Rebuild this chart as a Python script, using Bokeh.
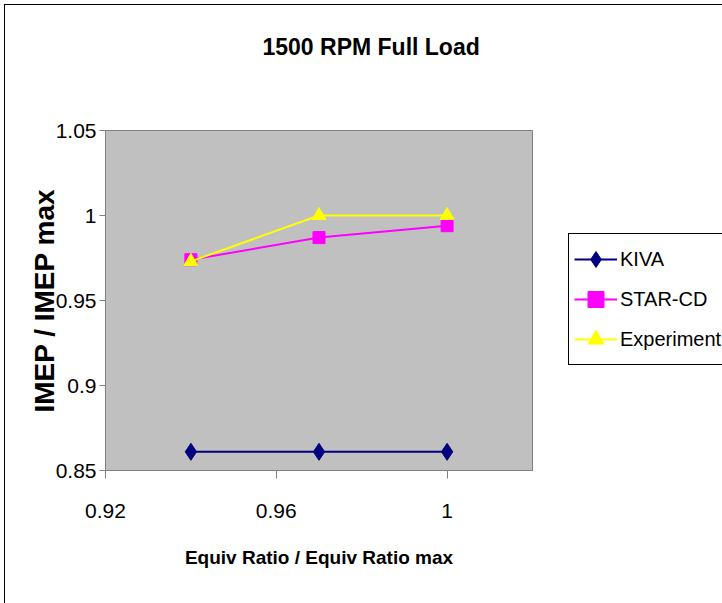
from bokeh.plotting import figure
from bokeh.layouts import row
from bokeh.models import FixedTicker, Label, Legend, LegendItem, Range1d
from bokeh.embed import file_html
from bokeh.resources import INLINE

# Normalised equivalence ratio and IMEP for each source
equiv_ratio = [0.94, 0.97, 1.0]
kiva = [0.861, 0.861, 0.861]
star_cd = [0.974, 0.987, 0.994]
experiment = [0.973, 1.0, 1.0]

series_names = ["KIVA", "STAR-CD", "Experiment"]
chart_title = "1500 RPM Full Load"

x_ticks = [0.92, 0.96, 1.0]
x_tick_labels = ["0.92", "0.96", "1"]
y_ticks = [0.85, 0.9, 0.95, 1.0, 1.05]
y_tick_labels = ["0.85", "0.9", "0.95", "1", "1.05"]

FONT = "Liberation Sans"
STYLES = [
    dict(color="#000080", marker="diamond", size=17),
    dict(color="#FF00FF", marker="square", size=12),
    dict(color="#FFFF00", marker="triangle", size=14),
]
SERIES = [kiva, star_cd, experiment]

# ---- main chart -------------------------------------------------------
p = figure(
    width=528, height=598,
    x_range=Range1d(0.92, 1.02), y_range=Range1d(0.85, 1.05),
    output_backend="svg", toolbar_location=None,
    min_border_left=100, min_border_right=1,
    min_border_top=125, min_border_bottom=133,
)
p.background_fill_color = "#C0C0C0"
p.border_fill_color = "white"
p.outline_line_color = "#808080"
p.outline_line_width = 1
p.xgrid.visible = False
p.ygrid.visible = False

# chart title, placed in the band above the plot area
title = Label(
    x=157, y=84, x_units="screen", y_units="screen",
    text=chart_title, text_font=FONT, text_font_size="23px",
    text_font_style="bold", text_color="black",
    text_align="left", text_baseline="middle",
)
p.add_layout(title, "above")

for ax in (p.xaxis, p.yaxis):
    ax.axis_line_color = "#808080"
    ax.major_tick_line_color = "#808080"
    ax.minor_tick_line_color = None
    ax.major_tick_in = 0
    ax.major_label_text_font = FONT
    ax.major_label_text_font_size = "21px"
    ax.major_label_text_color = "black"
    ax.axis_label_text_font_style = "bold"
    ax.axis_label_text_color = "black"

p.xaxis.ticker = FixedTicker(ticks=x_ticks)
p.xaxis.major_label_overrides = dict(zip(x_ticks, x_tick_labels))
p.xaxis.major_tick_out = 8
p.xaxis.major_label_standoff = 25
p.xaxis.axis_label = "Equiv Ratio / Equiv Ratio max"
p.xaxis.axis_label_text_font = FONT
p.xaxis.axis_label_text_font_size = "19px"
p.xaxis.axis_label_standoff = 26

p.yaxis.ticker = FixedTicker(ticks=y_ticks)
p.yaxis.major_label_overrides = dict(zip(y_ticks, y_tick_labels))
p.yaxis.major_tick_out = 6
p.yaxis.major_label_standoff = 3
p.yaxis.axis_label = "IMEP / IMEP max"
p.yaxis.axis_label_text_font = FONT
p.yaxis.axis_label_text_font_size = "28px"
p.yaxis.axis_label_standoff = -7

for ys, st in zip(SERIES, STYLES):
    p.line(equiv_ratio, ys, line_color=st["color"], line_width=2)
    p.scatter(equiv_ratio, ys, marker=st["marker"], size=st["size"],
              fill_color=st["color"], line_color=st["color"])

# ---- legend panel to the right of the chart ---------------------------
q = figure(
    width=189, height=598,
    x_range=Range1d(0.92, 1.02), y_range=Range1d(0.85, 1.05),
    output_backend="svg", toolbar_location=None, min_border=0,
)
q.axis.visible = False
q.grid.visible = False
q.outline_line_color = None
q.background_fill_color = "white"
q.border_fill_color = "white"

items = []
for name, ys, st in zip(series_names, SERIES, STYLES):
    lr = q.line(equiv_ratio, ys, line_color=st["color"], line_width=2, visible=False)
    mr = q.scatter(equiv_ratio, ys, marker=st["marker"], size=st["size"],
                   fill_color=st["color"], line_color=st["color"], visible=False)
    items.append(LegendItem(label=name, renderers=[lr, mr]))

legend = Legend(
    items=items,
    location=(35, 105),
    orientation="vertical",
    label_text_font=FONT,
    label_text_font_size="20px",
    label_text_color="black",
    label_standoff=3,
    glyph_width=43,
    glyph_height=40,
    label_height=40,
    spacing=0,
    padding=5,
    border_line_color="black",
    border_line_alpha=1,
    border_line_width=1,
    background_fill_color="white",
    background_fill_alpha=1,
)
q.add_layout(legend)

layout = row(p, q, spacing=0)
layout.styles = {
    "border-left": "1px solid black",
    "border-top": "1px solid black",
    "margin-left": "4px",
    "margin-top": "4px",
}

open("out.html", "w").write(file_html(layout, INLINE))
